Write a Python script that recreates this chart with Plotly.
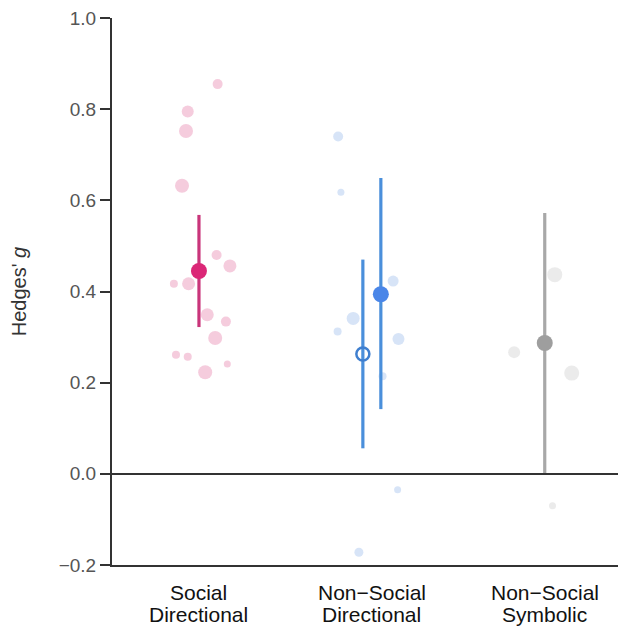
import plotly.graph_objects as go

# ---------------- data ----------------
categories = [("Social", "Directional"), ("Non\u2212Social", "Directional"), ("Non\u2212Social", "Symbolic")]

# individual study effects (Hedges' g), jitter (category units), weight (~marker diameter)
social_g = [0.855, 0.795, 0.752, 0.632, 0.480, 0.456, 0.417, 0.417, 0.349, 0.334, 0.298, 0.261, 0.257, 0.241, 0.223]
social_jit = [0.108, -0.065, -0.075, -0.098, 0.102, 0.179, -0.145, -0.060, 0.048, 0.156, 0.094, -0.133, -0.065, 0.164, 0.036]
social_w = [10, 12, 14, 14, 10, 13, 8, 13, 13, 10, 14, 8, 8, 7, 14]

nsdir_g = [0.740, 0.618, 0.423, 0.341, 0.312, 0.296, 0.214, -0.035, -0.172]
nsdir_jit = [-0.195, -0.179, 0.123, -0.108, -0.198, 0.154, 0.062, 0.149, -0.075]
nsdir_w = [10, 7, 11, 13, 8, 12, 8, 7, 9]

nssym_g = [0.437, 0.267, 0.221, -0.070]
nssym_jit = [0.058, -0.177, 0.156, 0.045]
nssym_w = [15, 12, 15, 7]

# pooled estimates: mean, lower, upper
social_mean = [0.445]; social_lo = [0.322]; social_hi = [0.568]
nsdir_open_mean = [0.263]; nsdir_open_lo = [0.056]; nsdir_open_hi = [0.470]
nsdir_mean = [0.394]; nsdir_lo = [0.142]; nsdir_hi = [0.649]
nssym_mean = [0.287]; nssym_lo = [0.002]; nssym_hi = [0.572]

y_ticks = [-0.2, 0.0, 0.2, 0.4, 0.6, 0.8, 1.0]

# ---------------- figure ----------------
fig = go.Figure()

def pts(cat, jit, g, w, color):
    fig.add_trace(go.Scatter(
        x=[cat + j for j in jit], y=g, mode="markers",
        marker=dict(size=w, color=color, line=dict(width=0)),
        hoverinfo="skip", showlegend=False))

pts(0, social_jit, social_g, social_w, "rgba(228,122,166,0.55)")
pts(1, nsdir_jit, nsdir_g, nsdir_w, "rgba(126,168,228,0.45)")
pts(2, nssym_jit, nssym_g, nssym_w, "rgba(204,204,204,0.55)")

def est(x, m, lo, hi, color, ecolor, symbol="circle", size=16, lw=0):
    fig.add_trace(go.Scatter(
        x=[x], y=m, mode="markers",
        marker=dict(size=size, color=color, symbol=symbol, line=dict(width=lw, color=color)),
        error_y=dict(type="data", symmetric=False,
                     array=[hi[0] - m[0]], arrayminus=[m[0] - lo[0]],
                     color=ecolor, thickness=3.2, width=0),
        showlegend=False, hoverinfo="skip"))

est(0, social_mean, social_lo, social_hi, "#DB2777", "#C9357A")
est(1 - 0.052, nsdir_open_mean, nsdir_open_lo, nsdir_open_hi, "#3F7FCF", "#4A8FDB",
    symbol="circle-open", size=13, lw=2.5)
est(1 + 0.052, nsdir_mean, nsdir_lo, nsdir_hi, "#4A86E8", "#4A8FDB", size=16)
est(2, nssym_mean, nssym_lo, nssym_hi, "#9E9E9E", "#A8A8A8")

# category labels (two lines each, tight spacing)
for i, (l1, l2) in enumerate(categories):
    for text, yy in ((l1, -0.050), (l2, -0.091)):
        fig.add_annotation(x=i, xref="x", y=yy, yref="paper", text=text, showarrow=False,
                           xanchor="center", yanchor="middle",
                           font=dict(size=21, color="#111111"))

fig.update_layout(
    width=618, height=623,
    margin=dict(l=104, r=0, t=10, b=66),
    paper_bgcolor="white", plot_bgcolor="white",
    font=dict(family="Liberation Sans, Arial, sans-serif"),
    xaxis=dict(
        range=[-0.503, 2.47], tickvals=[0, 1, 2], showticklabels=False,
        showgrid=False, zeroline=False, showline=True, linecolor="#333333", linewidth=2,
        ticks="", automargin=False,
    ),
    yaxis=dict(
        range=[-0.2, 1.0], tickvals=y_ticks, tickformat=".1f",
        showgrid=False, zeroline=True, zerolinecolor="#333333", zerolinewidth=2,
        showline=True, linecolor="#333333", linewidth=2,
        ticks="outside", ticklen=10, tickwidth=2, tickcolor="#333333",
        tickfont=dict(size=19, color="#555555"), automargin=False,
        ticklabeloverflow="allow",
        title=dict(text="Hedges' <i>g</i>", font=dict(size=20, color="#333333"), standoff=27),
    ),
)

fig.write_html("out.html")
